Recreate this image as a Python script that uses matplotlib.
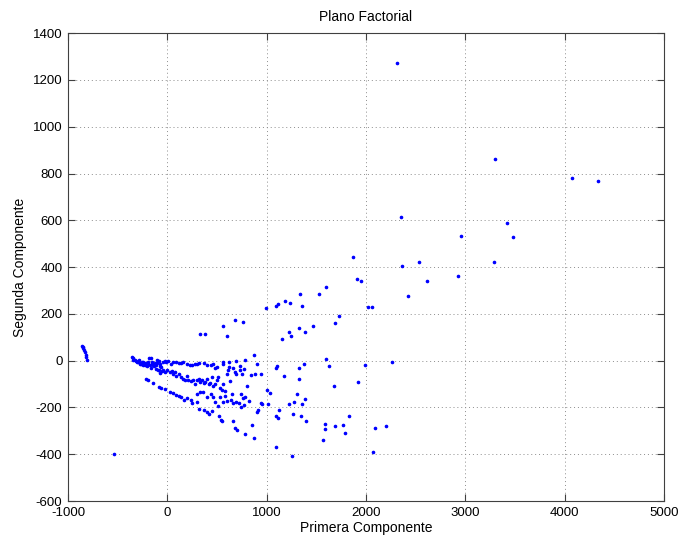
import matplotlib
matplotlib.use("Agg")
import matplotlib.pyplot as plt
import numpy as np

# Proyeccion de las observaciones sobre las dos primeras componentes
# grupo aislado a la izquierda
izq_x = [-860, -852, -845, -838, -830, -822, -815, -808]
izq_y = [64, 60, 55, 46, 36, 25, 14, 4]

# nube densa, banda superior (cerca de cero)
b1_x = [-356, -342, -349, -329, -315, -302, -288, -275, -262, -248, -235, -221,
        -208, -195, -181, -168, -154, -141, -127, -114, -101, -87, -74, -60,
        -40, -27, -13, 7, 34, 60, 87, 114, 141, 161, 195, 228, 248, 275, 295,
        316, 369, 396, 436, 457, 483, 497, 557, 564, 618, 691, 732, 785, 873,
        900, -300, -280, -260, -240, -220, -200, -190, -170, -160, -150, -130,
        -110, -100, -90, -70]
b1_y = [15, 10, 1, 4, -2, -7, 1, -10, -13, -7, -16, -19, -10, -16, 13, 10, -13,
        -19, -10, -19, 4, -2, -25, -27, -7, -2, -5, -2, -13, -7, -7, -10, -10,
        -7, -13, -19, -19, -16, -13, -10, -10, -19, -19, -13, -33, -27, -5,
        -13, -5, -2, -25, 4, 24, -13, -5, -15, -5, -20, -10, -25, -5, -20, -30,
        -5, -25, -35, -10, -40, -15]

# banda intermedia
b2_x = [-215, -195, -141, -87, -74, -54, -40, -20, 0, 27, 47, 60, 74, 87, 114,
        134, 161, 181, 195, 208, 235, 262, 275, 295, 316, 329, 349, 369, 383,
        396, 416, 430, 450, 463, 477, 497, 510, 530, 550, 564, 577, 597, 614,
        624, 631, 664, 678, 691, 732, 752, 772, 799, 839, 886, 946]
b2_y = [-77, -84, -96, -42, -53, -44, -39, -50, -42, -50, -44, -56, -50, -67,
        -59, -70, -79, -84, -64, -84, -87, -84, -98, -84, -79, -90, -81, -96,
        -93, -79, -101, -96, -70, -110, -98, -81, -70, -116, -124, -98, -130,
        -56, -42, -27, -87, -30, -47, -59, -42, -56, -36, -110, -61, -56, -55]

# banda inferior
b3_x = [-80, -60, -20, 27, 60, 87, 121, 141, 168, 195, 235, 248, 295, 322, 369,
        396, 423, 450, 302, 329, 356, 396, 436, 463, 483, 510, 530, 564, 584,
        597, 638, 651, 664, 691, 718, 745, 765, 785, 819, 738, 772, 900, 913,
        524, 537, 550, 664, 681, 698, 779, 852, 873]
b3_y = [-113, -116, -121, -133, -138, -147, -150, -155, -169, -161, -169, -181,
        -178, -206, -212, -221, -229, -215, -144, -135, -135, -155, -141, -155,
        -175, -192, -155, -175, -150, -172, -167, -141, -181, -178, -181, -141,
        -161, -155, -172, -198, -189, -218, -212, -235, -255, -258, -258, -289,
        -295, -312, -275, -329]

# puntos dispersos
dis_x = [-537, 329, 376, 557, 597, 681, 765, 1000, 1034, 940, 950, 1010, 1094,
         1107, 1175, 1329, 1376, 1329, 1302, 1275, 1221, 1127, 1094, 1114, 1262,
         1091, 1258, 1154, 1228, 1242, 1323, 1389, 1463, 990, 1090, 1110, 1180,
         1230, 1872, 1906, 1946, 1597, 1527, 1336, 1359, 2023, 2060, 1728, 1685,
         1597, 1627, 1993, 2259, 1675, 1922, 1389, 1359, 1346, 1396, 1590, 1584,
         1688, 1771, 1832, 1789, 1570, 2090, 2201, 2073]
dis_y = [-397, 112, 115, 149, 107, 172, 166, -127, -138, -183, -186, -186, -30,
         -24, -67, -33, -16, -78, -144, -175, -186, -209, -235, -245, -229,
         -371, -407, 92, 124, 107, 141, 124, 149, 225, 232, 243, 255, 245, 445,
         348, 342, 314, 286, 283, 234, 228, 228, 192, 163, 8, -24, -17, -4,
         -108, -93, -166, -186, -238, -256, -272, -293, -279, -273, -238, -309,
         -341, -287, -279, -392]

# valores extremos
ext_x = [2315, 3302, 4077, 4335, 2349, 3416, 3477, 2953, 3292, 2365, 2530, 2926,
         2614, 2426]
ext_y = [1274, 861, 782, 767, 615, 588, 530, 533, 420, 403, 420, 362, 341, 278]

pc1 = np.concatenate([izq_x, b1_x, b2_x, b3_x, dis_x, ext_x])
pc2 = np.concatenate([izq_y, b1_y, b2_y, b3_y, dis_y, ext_y])

plt.rcParams['font.family'] = ['Liberation Sans', 'DejaVu Sans']
plt.rcParams['font.size'] = 9.5
plt.rcParams['axes.unicode_minus'] = False

fig = plt.figure(figsize=(6.8, 5.39), dpi=100)
ax = fig.add_axes([0.1, 0.0705, 0.8765, 0.868])
ax.plot(pc1, pc2, '.', color='#0000ff', markersize=3.2, linestyle='none')

ax.set_xlim(-1000, 5000)
ax.set_ylim(-600, 1400)
ax.set_xticks(np.arange(-1000, 5001, 1000))
ax.set_yticks(np.arange(-600, 1401, 200))
ax.grid(True, linestyle=(0, (1, 3)), color='#8c8c8c', linewidth=0.7)
ax.tick_params(direction='in', top=True, right=True, length=5, width=0.8,
               color='#404040', pad=4)
for s in ax.spines.values():
    s.set_color('#404040')
    s.set_linewidth(0.8)

ax.set_title('Plano Factorial', fontsize=10, pad=9)
ax.set_xlabel('Primera Componente', fontsize=10, labelpad=2)
ax.set_ylabel('Segunda Componente', fontsize=10, labelpad=4)

fig.savefig('out.png', dpi=100)
